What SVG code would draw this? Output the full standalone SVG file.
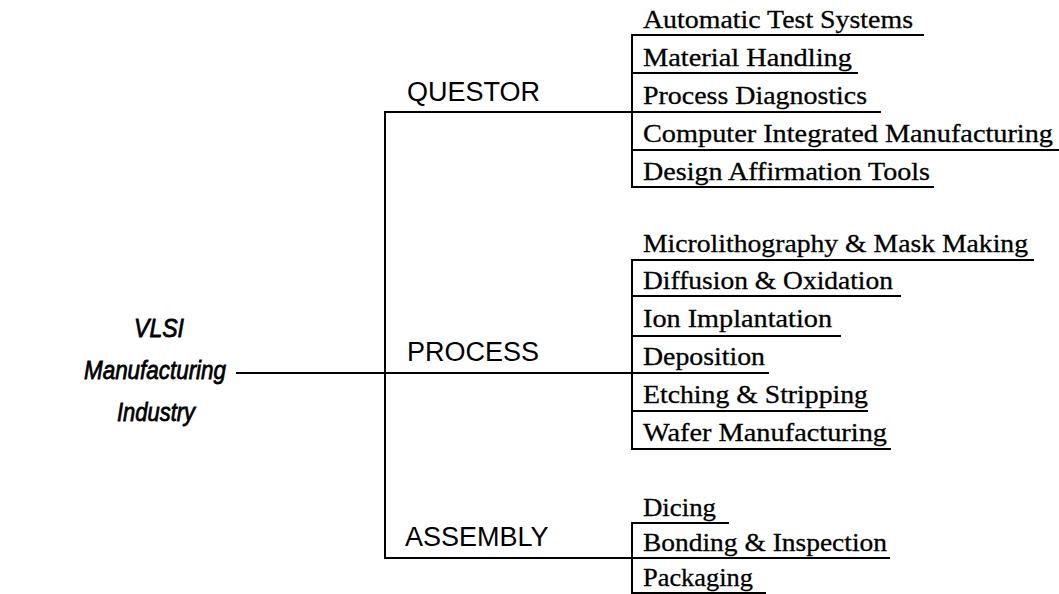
<svg xmlns="http://www.w3.org/2000/svg" width="1059" height="594" viewBox="0 0 1059 594">
  <style>
    .item { font-family: "Liberation Serif", "Times New Roman", serif; font-size: 26px; fill: #000; stroke: #000; stroke-width: 0.3; }
    .cat { font-family: "Liberation Sans", Arial, Helvetica, sans-serif; font-size: 27px; fill: #000; }
    .title { font-family: "Liberation Sans", Arial, Helvetica, sans-serif; font-size: 26px; font-style: italic; fill: #000; stroke: #000; stroke-width: 0.8; text-anchor: middle; }
    .ln { stroke: #000; stroke-width: 2; fill: none; stroke-linecap: square; }
  </style>
  <rect width="1059" height="594" fill="#fff"/>

  <!-- tree connectors -->
  <g id="connectors" class="ln">
    <path d="M237 373 H632"/>
    <path d="M385 112 V558"/>
    <path d="M385 112 H632"/>
    <path d="M385 558 H632"/>
    <!-- group spines -->
    <path d="M632 35 V187"/>
    <path d="M632 260 V449"/>
    <path d="M632 523 V594"/>
  </g>

  <!-- root -->
  <g id="root">
    <text class="title" x="159" y="337" textLength="50" lengthAdjust="spacingAndGlyphs">VLSI</text>
    <text class="title" x="155" y="379" textLength="142" lengthAdjust="spacingAndGlyphs">Manufacturing</text>
    <text class="title" x="156" y="421" textLength="78" lengthAdjust="spacingAndGlyphs">Industry</text>
  </g>

  <!-- QUESTOR branch -->
  <g id="questor">
    <text class="cat" x="407" y="101">QUESTOR</text>
    <g id="q-ats"><text class="item" x="643" y="28" textLength="270" lengthAdjust="spacingAndGlyphs">Automatic Test Systems</text><path class="ln" d="M632 35 H923"/></g>
    <g id="q-mh"><text class="item" x="643" y="66" textLength="209" lengthAdjust="spacingAndGlyphs">Material Handling</text><path class="ln" d="M632 73 H857"/></g>
    <g id="q-pd"><text class="item" x="643" y="104" textLength="224" lengthAdjust="spacingAndGlyphs">Process Diagnostics</text><path class="ln" d="M632 112 H880"/></g>
    <g id="q-cim"><text class="item" x="643" y="142" textLength="410" lengthAdjust="spacingAndGlyphs">Computer Integrated Manufacturing</text><path class="ln" d="M632 150 H1058"/></g>
    <g id="q-daf"><text class="item" x="643" y="180" textLength="287" lengthAdjust="spacingAndGlyphs">Design Affirmation Tools</text><path class="ln" d="M632 187 H933"/></g>
  </g>

  <!-- PROCESS branch -->
  <g id="process">
    <text class="cat" x="407" y="361">PROCESS</text>
    <g id="p-micro"><text class="item" x="643" y="252" textLength="385" lengthAdjust="spacingAndGlyphs">Microlithography &amp; Mask Making</text><path class="ln" d="M632 260 H1033"/></g>
    <g id="p-diff"><text class="item" x="643" y="289" textLength="250" lengthAdjust="spacingAndGlyphs">Diffusion &amp; Oxidation</text><path class="ln" d="M632 296 H900"/></g>
    <g id="p-ion"><text class="item" x="643" y="327" textLength="189" lengthAdjust="spacingAndGlyphs">Ion Implantation</text><path class="ln" d="M632 336 H840"/></g>
    <g id="p-dep"><text class="item" x="643" y="365" textLength="122" lengthAdjust="spacingAndGlyphs">Deposition</text><path class="ln" d="M632 373 H768"/></g>
    <g id="p-etch"><text class="item" x="643" y="403" textLength="225" lengthAdjust="spacingAndGlyphs">Etching &amp; Stripping</text><path class="ln" d="M632 411 H867"/></g>
    <g id="p-wafer"><text class="item" x="643" y="441" textLength="244" lengthAdjust="spacingAndGlyphs">Wafer Manufacturing</text><path class="ln" d="M632 449 H890"/></g>
  </g>

  <!-- ASSEMBLY branch -->
  <g id="assembly">
    <text class="cat" x="405" y="546">ASSEMBLY</text>
    <g id="a-dice"><text class="item" x="643" y="516" textLength="73" lengthAdjust="spacingAndGlyphs">Dicing</text><path class="ln" d="M632 523 H728"/></g>
    <g id="a-bond"><text class="item" x="643" y="551" textLength="244" lengthAdjust="spacingAndGlyphs">Bonding &amp; Inspection</text><path class="ln" d="M632 558 H889"/></g>
    <g id="a-pack"><text class="item" x="643" y="586" textLength="110" lengthAdjust="spacingAndGlyphs">Packaging</text><path class="ln" d="M632 593 H765"/></g>
  </g>
</svg>
